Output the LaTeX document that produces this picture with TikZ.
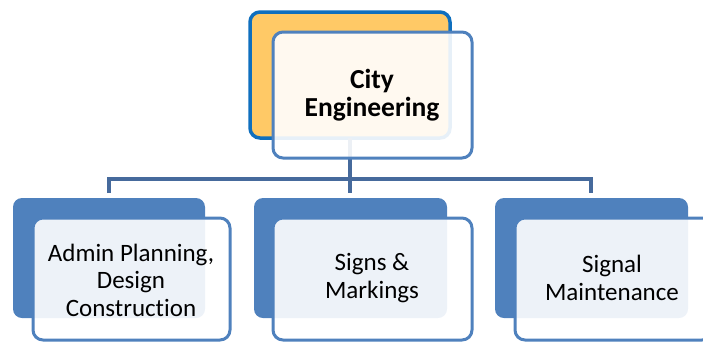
\documentclass[tikz,border=0pt]{standalone}
\usepackage{fontspec}
\setmainfont[Ligatures={NoCommon}]{Carlito}
\definecolor{orangefill}{HTML}{FFC966}
\definecolor{topborder}{HTML}{0F6FBE}
\definecolor{boxblue}{HTML}{4F81BD}
\definecolor{linkblue}{HTML}{466A9C}
\begin{document}
\begin{tikzpicture}[x=1pt,y=-1pt,
  topback/.style={draw=topborder, line width=3.5pt, fill=orangefill, rounded corners=10pt},
  back/.style={draw=none, fill=boxblue, rounded corners=9pt},
  front/.style={draw=boxblue, line width=3pt, fill=white, fill opacity=0.9, draw opacity=1, text opacity=1, rounded corners=10pt},
  lbl/.style={align=center, text=black, font=\fontsize{25}{27.5}\selectfont},
  toplbl/.style={align=center, text=black, font=\bfseries\fontsize{27.5}{28}\selectfont},
  link/.style={draw=linkblue, line width=3.5pt}
]
\useasboundingbox (0,0) rectangle (703,341);
\begin{scope}
\clip (0,0) rectangle (703,341);
% top back box
\path[topback] (250,12) rectangle (450,138);
\coordinate (tb) at (350,138);
% bottom back boxes
\path[back] (13,198) rectangle (205,318);
\path[back] (254,198) rectangle (447,318);
\path[back] (495,198) rectangle (688,318);
\coordinate (c1) at (109,193);
\coordinate (c2) at (350,193);
\coordinate (c3) at (591,193);
\coordinate (bus) at (350,179);
% connectors
\draw[link] (tb) -- (bus);
\draw[link] (c1) |- (bus) -| (c3);
\draw[link] (bus) -- (c2);
% front boxes
\path[front] (273,32) rectangle (472,158);
\path[front] (33,218) rectangle (230,340);
\path[front] (273,218) rectangle (472,340);
\path[front] (515,218) rectangle (712,340);
\end{scope}
\node[toplbl] (top) at (372,95) {City\\Engineering};
\node[lbl] (a) at (131,280) {Admin Planning,\\Design\\Construction};
\node[lbl] (b) at (372,278) {Signs \&\\Markings};
\node[lbl] (c) at (612,278) {Signal\\Maintenance};
\end{tikzpicture}
\end{document}
